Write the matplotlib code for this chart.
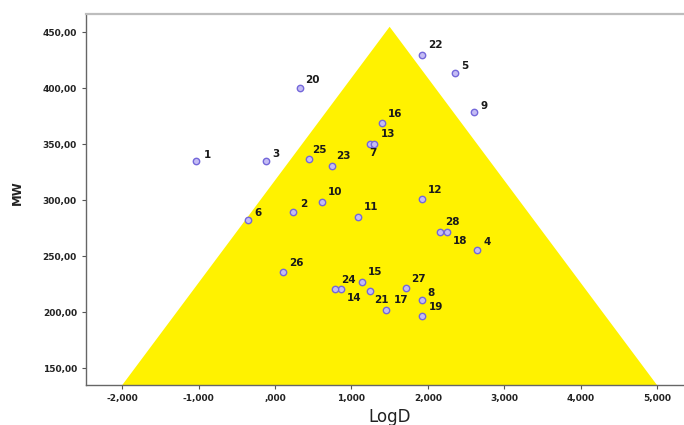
import matplotlib
matplotlib.use("Agg")
import matplotlib.pyplot as plt
from matplotlib.patches import Polygon

# Compound IDs with LogD and molecular weight
ids = [1, 2, 3, 4, 5, 6, 7, 8, 9, 10, 11, 12, 13, 14,
       15, 16, 17, 18, 19, 20, 21, 22, 23, 24, 25, 26, 27, 28]
logd = [-1.03, 0.24, -0.12, 2.65, 2.36, -0.35, 1.24, 1.93, 2.61, 0.61,
        1.08, 1.92, 1.30, 0.87, 1.14, 1.40, 1.45, 2.25, 1.92, 0.33,
        1.24, 1.93, 0.75, 0.79, 0.44, 0.11, 1.71, 2.16]
mw = [335.1, 289.8, 335.0, 255.6, 413.9, 282.4, 350.5, 211.0, 378.8, 298.2,
      285.4, 300.9, 350.5, 220.8, 227.0, 369.3, 201.8, 271.4, 197.0, 400.0,
      219.3, 429.5, 330.6, 220.8, 336.9, 236.0, 221.4, 271.4]

# Label offsets (pixels) for each compound number
label_dx = [11, 10, 10, 10, 9, 10, 3, 9, 10, 13, 14, 13, 14, 13,
            13, 13, 15, 13, 14, 12, 12, 13, 11, 13, 11, 13, 13, 12]
label_dy = [6, 8, 7, 8, 7, 7, -9, 7, 6, 10, 10, 9, 10, -9,
            10, 9, 10, -9, 9, 8, -9, 10, 10, 9, 9, 9, 9, 10]

# Drug-likeness region (triangle) in LogD / MW space
region_logd = [-2.0, 1.5, 5.0]
region_mw = [135.0, 455.0, 135.0]

x_ticks = [-2, -1, 0, 1, 2, 3, 4, 5]
x_tick_labels = ["-2,000", "-1,000", ",000", "1,000", "2,000", "3,000", "4,000", "5,000"]
y_ticks = [150, 200, 250, 300, 350, 400, 450]
y_tick_labels = ["150,00", "200,00", "250,00", "300,00", "350,00", "400,00", "450,00"]

fig = plt.figure(figsize=(6.84, 4.25), dpi=100)
ax = fig.add_axes([86 / 684, 1 - 385 / 425, 598 / 684, 371 / 425])

ax.add_patch(Polygon(list(zip(region_logd, region_mw)), closed=True,
                     facecolor="#fff200", edgecolor="none", zorder=1))

ax.plot(logd, mw, linestyle="none", marker="o", markersize=4.6,
        markerfacecolor="#c4bcf4", markeredgecolor="#7468da",
        markeredgewidth=1.0, zorder=3)

for i, x, y, dx, dy in zip(ids, logd, mw, label_dx, label_dy):
    ax.annotate(str(i), (x, y), xytext=(dx, dy), textcoords="offset pixels",
                ha="center", va="center", fontsize=7.5, fontweight="bold",
                color="#1a1a1a", zorder=4)

ax.set_xlim(-2.474, 5.353)
ax.set_ylim(135.1, 466.4)

ax.set_xticks(x_ticks)
ax.set_xticklabels(x_tick_labels)
ax.set_yticks(y_ticks)
ax.set_yticklabels(y_tick_labels)
ax.tick_params(axis="both", labelsize=6.5, length=3, width=0.8,
               color="#555555", labelcolor="#222222", direction="out")
for lbl in ax.get_xticklabels() + ax.get_yticklabels():
    lbl.set_fontweight("bold")

ax.spines["right"].set_visible(False)
ax.spines["top"].set_color("#bdbdbd")
ax.spines["top"].set_linewidth(1.6)
ax.spines["left"].set_color("#666666")
ax.spines["left"].set_linewidth(1.0)
ax.spines["bottom"].set_color("#666666")
ax.spines["bottom"].set_linewidth(1.0)

fig.text(17 / 684, 1 - 193 / 425, "MW", rotation=90, ha="center", va="center",
         fontsize=8.5, fontweight="bold", color="#222222")
fig.text(390 / 684, 1 - 417 / 425, "LogD", ha="center", va="center",
         fontsize=12, color="#222222")

fig.savefig("out.png", dpi=100)
